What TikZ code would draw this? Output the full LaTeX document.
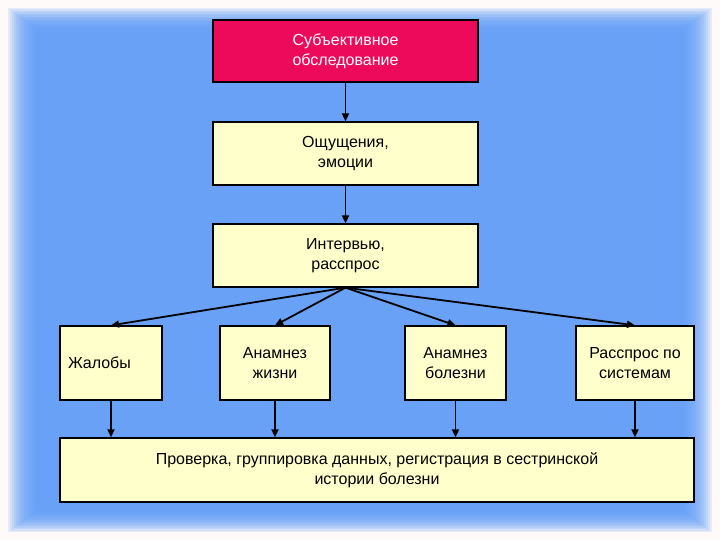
\documentclass[tikz,border=0pt]{standalone}
\usepackage{fontspec}
\setmainfont{Liberation Sans}
\usetikzlibrary{arrows.meta}
\begin{document}
\begin{tikzpicture}[x=1pt,y=-1pt,
  box/.style={draw=black,line width=1.3pt,fill=yellowbox,align=center,font=\fontsize{16}{20}\selectfont,inner sep=0pt},
  conn/.style={line width=1.8pt,-{Triangle[length=8pt,width=7pt]}}]
\definecolor{yellowbox}{HTML}{FFFFCC}
\definecolor{bgblue}{HTML}{5E9CF7}
\definecolor{topred}{HTML}{EE0A5A}
\useasboundingbox (0,0) rectangle (720,540);
\fill[white!92!pink] (0,0) rectangle (720,540);
\foreach \i in {0,...,14}{
  \fill[bgblue,opacity=0.15] (8+2*\i,8+1.5*\i) rectangle (712-2*\i,532-1.5*\i);
}
\node[box,fill=topred,text=white,minimum width=265pt,minimum height=62pt] (a) at (345.5,51) {Субъективное\\обследование};
\node[box,minimum width=265pt,minimum height=63pt] (b) at (345.5,153.5) {Ощущения,\\эмоции};
\node[box,minimum width=265pt,minimum height=63pt] (c) at (345.5,255.5) {Интервью,\\расспрос};
\node[box,minimum width=102pt,minimum height=74pt,text width=86pt,align=left] (d1) at (111,363) {Жалобы};
\node[box,minimum width=110pt,minimum height=74pt] (d2) at (275,363) {Анамнез\\жизни};
\node[box,minimum width=101pt,minimum height=74pt] (d3) at (455.5,363) {Анамнез\\болезни};
\node[box,minimum width=118pt,minimum height=74pt] (d4) at (635,363) {Расспрос по\\системам};
\node[box,minimum width=634pt,minimum height=64pt] (e) at (377,470) {Проверка, группировка данных, регистрация в сестринской\\истории болезни};
\draw[conn] (a) -- (b);
\draw[conn] (b) -- (c);
\foreach \n in {d1,d2,d3,d4}{\draw[conn] (c.south) -- (\n.north);}
\foreach \n in {d1,d2,d3,d4}{\draw[conn] (\n.south) -- (\n.south |- e.north);}
\end{tikzpicture}
\end{document}
